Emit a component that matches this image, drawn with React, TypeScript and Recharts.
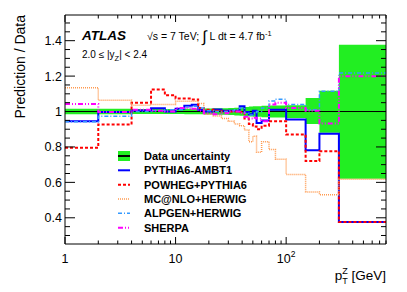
import { ComposedChart, Area, Line, XAxis, YAxis, ReferenceLine } from "recharts";

// bin edges in pT (GeV); first bin really starts at 0 but the log axis starts at 1
const binEdges = [1, 2, 4, 6, 8, 10, 12, 14, 16, 18, 22, 26, 30, 34, 38, 42, 46, 50, 54, 60, 70, 80, 100, 150, 200, 300, 800];

// data uncertainty band (one value per bin)
const dataLow = [0.984, 0.985, 0.986, 0.986, 0.986, 0.986, 0.985, 0.985, 0.984, 0.983, 0.982, 0.982, 0.98, 0.978, 0.976, 0.974, 0.972, 0.97, 0.97, 0.968, 0.966, 0.966, 0.964, 0.93, 0.88, 0.621];
const dataHigh = [1.016, 1.015, 1.014, 1.014, 1.014, 1.014, 1.015, 1.015, 1.016, 1.017, 1.018, 1.018, 1.02, 1.022, 1.024, 1.026, 1.028, 1.03, 1.03, 1.032, 1.034, 1.034, 1.036, 1.077, 1.118, 1.377];

// prediction / data ratios
const pythia = [0.945, 0.998, 1.006, 1.018, 1.0, 1.015, 1.032, 1.038, 1.008, 1.0, 1.012, 1.005, 1.005, 1.005, 1.03, 0.998, 0.985, 1.005, 0.935, 0.95, 1.01, 1.01, 0.955, 0.782, 0.875, 0.376];
const powheg = [0.795, 0.927, 1.049, 1.124, 1.092, 1.073, 1.073, 1.068, 1.02, 1.01, 1.005, 1.0, 1.0, 1.0, 0.998, 0.96, 0.93, 0.915, 0.9, 0.92, 0.945, 0.945, 0.87, 0.72, 0.776, 0.376];
const mcatnlo = [1.134, 1.064, 1.035, 1.04, 1.04, 1.058, 1.058, 1.058, 1.045, 0.985, 0.975, 0.96, 0.945, 0.93, 0.92, 0.895, 0.83, 0.86, 0.77, 0.83, 0.785, 0.73, 0.645, 0.545, 0.53, 0.617];
const alpgen = [0.942, 0.974, 1.0, 1.005, 1.01, 1.01, 1.025, 1.03, 1.02, 1.005, 1.0, 1.0, 1.005, 1.01, 1.02, 0.99, 0.98, 0.99, 1.0, 1.02, 1.06, 1.07, 1.04, 1.01, 1.114, 1.218];
const sherpa = [1.043, 0.998, 1.01, 1.005, 1.0, 1.02, 1.02, 1.015, 1.005, 0.99, 0.985, 0.99, 1.0, 1.0, 0.99, 0.97, 0.96, 0.965, 0.96, 0.945, 1.04, 1.05, 1.02, 1.005, 0.932, 1.199];

const xTicks = [1, 2, 3, 4, 5, 6, 7, 8, 9, 10, 20, 30, 40, 50, 60, 70, 80, 90, 100, 200, 300, 400, 500, 600, 700, 800];
const xMajor = [1, 10, 100];
const yTicks = [0.3, 0.35, 0.4, 0.45, 0.5, 0.55, 0.6, 0.65, 0.7, 0.75, 0.8, 0.85, 0.9, 0.95, 1, 1.05, 1.1, 1.15, 1.2, 1.25, 1.3, 1.35, 1.4, 1.45, 1.5];

const FONT = "'Liberation Sans', Arial, Helvetica, sans-serif";

const rows = binEdges.map((x, i) => {
  const j = Math.min(i, pythia.length - 1);
  return {
    x,
    band: [dataLow[j], dataHigh[j]],
    pythia: pythia[j],
    powheg: powheg[j],
    mcatnlo: mcatnlo[j],
    alpgen: alpgen[j],
    sherpa: sherpa[j],
  };
});

const isYMajor = (v: number) => Math.abs(v * 5 - Math.round(v * 5)) < 1e-6;

const BottomTick = (p: any) => {
  const v = p.payload.value;
  const major = xMajor.includes(v);
  return (
    <g>
      <line x1={p.x} x2={p.x} y1={p.y} y2={p.y - (major ? 7 : 3.5)} stroke="#000" strokeWidth={1} />
      {major && (
        <text x={p.x} y={p.y + 19} textAnchor="middle" fontSize={12.5} fontFamily={FONT} fill="#000">
          {v === 100 ? (
            <>
              10<tspan fontSize={8.5} dy={-6}>2</tspan>
            </>
          ) : (
            String(v)
          )}
        </text>
      )}
    </g>
  );
};

const TopTick = (p: any) => {
  const major = xMajor.includes(p.payload.value);
  return <line x1={p.x} x2={p.x} y1={p.y} y2={p.y + (major ? 7 : 3.5)} stroke="#000" strokeWidth={1} />;
};

const LeftTick = (p: any) => {
  const v = p.payload.value;
  const major = isYMajor(v);
  return (
    <g>
      <line x1={p.x} x2={p.x + (major ? 10 : 5)} y1={p.y} y2={p.y} stroke="#000" strokeWidth={1} />
      {major && (
        <text x={p.x - 3} y={p.y + 4.5} textAnchor="end" fontSize={12.5} fontFamily={FONT} fill="#000">
          {v === 1 ? "1" : v.toFixed(1)}
        </text>
      )}
    </g>
  );
};

const RightTick = (p: any) => {
  const major = isYMajor(p.payload.value);
  return <line x1={p.x} x2={p.x - (major ? 10 : 5)} y1={p.y} y2={p.y} stroke="#000" strokeWidth={1} />;
};

const legendItems = [
  { name: "PYTHIA6-AMBT1", color: "#0000ff", dash: undefined, width: 2 },
  { name: "POWHEG+PYTHIA6", color: "#ff0000", dash: "3 2", width: 2 },
  { name: "MC@NLO+HERWIG", color: "#ff9a50", dash: "1 1", width: 1.5 },
  { name: "ALPGEN+HERWIG", color: "#3399ff", dash: "4 2 1 2", width: 1.5 },
  { name: "SHERPA", color: "#ff00ff", dash: "5 2 1 2 1 2", width: 2 },
];

export default function App() {
  return (
    <div style={{ position: "absolute", left: 0, top: 0, width: 407, height: 292, background: "#fff" }}>
      <ComposedChart width={407} height={292} data={rows} margin={{ top: 14, right: 20, bottom: 0, left: 0 }}>
        <XAxis
          dataKey="x"
          type="number"
          scale="log"
          domain={[1, 800]}
          allowDataOverflow
          ticks={xTicks}
          interval={0}
          height={48}
          tickSize={0}
          tickMargin={0}
          tickLine={false}
          tick={BottomTick}
          axisLine={{ stroke: "#000", strokeWidth: 1 }}
        />
        <XAxis
          xAxisId="top"
          orientation="top"
          dataKey="x"
          type="number"
          scale="log"
          domain={[1, 800]}
          allowDataOverflow
          ticks={xTicks}
          interval={0}
          height={1}
          tickSize={0}
          tickMargin={0}
          tickLine={false}
          tick={TopTick}
          axisLine={{ stroke: "#000", strokeWidth: 1 }}
        />
        <YAxis
          type="number"
          domain={[0.252, 1.545]}
          allowDataOverflow
          ticks={yTicks}
          interval={0}
          width={65}
          tickSize={0}
          tickMargin={0}
          tickLine={false}
          tick={LeftTick}
          axisLine={{ stroke: "#000", strokeWidth: 1 }}
        />
        <YAxis
          yAxisId="right"
          orientation="right"
          type="number"
          domain={[0.252, 1.545]}
          allowDataOverflow
          ticks={yTicks}
          interval={0}
          width={1}
          tickSize={0}
          tickMargin={0}
          tickLine={false}
          tick={RightTick}
          axisLine={{ stroke: "#000", strokeWidth: 1 }}
        />
        <Area dataKey="band" type="stepAfter" fill="#22ee22" fillOpacity={1} stroke="none" isAnimationActive={false} />
        <ReferenceLine y={1} stroke="#000" strokeWidth={1} />
        <Line dataKey="pythia" type="stepAfter" stroke="#0000ff" strokeWidth={2} dot={false} isAnimationActive={false} />
        <Line dataKey="powheg" type="stepAfter" stroke="#ff0000" strokeWidth={2} strokeDasharray="3 2" dot={false} isAnimationActive={false} />
        <Line dataKey="mcatnlo" type="stepAfter" stroke="#ff9a50" strokeWidth={1.5} strokeDasharray="1 1" dot={false} isAnimationActive={false} />
        <Line dataKey="alpgen" type="stepAfter" stroke="#3399ff" strokeWidth={1.5} strokeDasharray="4 2 1 2" dot={false} isAnimationActive={false} />
        <Line dataKey="sherpa" type="stepAfter" stroke="#ff00ff" strokeWidth={2} strokeDasharray="5 2 1 2 1 2" dot={false} isAnimationActive={false} />
      </ComposedChart>

      <svg width={407} height={292} style={{ position: "absolute", left: 0, top: 0, pointerEvents: "none" }} fontFamily={FONT}>
        <text x={82} y={40} fontSize={13.5} fontWeight="bold" fontStyle="italic" fill="#000">ATLAS</text>
        <text x={147} y={40} fontSize={10.5} fill="#000">
          √s = 7 TeV;
          <tspan fontSize={16} dx={3} dy={2}>∫</tspan>
          <tspan dx={3} dy={-2}>L dt = 4.7 fb</tspan>
          <tspan fontSize={7.5} dy={-4}>-1</tspan>
        </text>
        <text x={82} y={58} fontSize={10} fill="#000">
          2.0 ≤ |y<tspan fontSize={7.5} dy={3}>Z</tspan>
          <tspan dy={-3}>| &lt; 2.4</tspan>
        </text>

        <text transform="translate(25,15) rotate(-90)" textAnchor="end" fontSize={14} fill="#000">
          Prediction / Data
        </text>

        <text x={386} y={280} textAnchor="end" fontSize={13.5} fill="#000">
          p<tspan fontSize={9} dy={4}>T</tspan>
          <tspan fontSize={9} dx={-5.5} dy={-10}>Z</tspan>
          <tspan dy={6}> [GeV]</tspan>
        </text>

        {/* legend */}
        <rect x={118} y={151} width={12} height={10} fill="#22ee22" />
        <line x1={118} x2={130} y1={156} y2={156} stroke="#000" strokeWidth={2} />
        <text x={144} y={160} fontSize={11} fontWeight="bold" fill="#000">Data uncertainty</text>
        {legendItems.map((it, i) => {
          const cy = 170.3 + i * 14.35;
          return (
            <g key={it.name}>
              <line x1={118} x2={130} y1={cy} y2={cy} stroke={it.color} strokeWidth={it.width} strokeDasharray={it.dash} />
              <text x={144} y={cy + 4} fontSize={11} fontWeight="bold" fill="#000">{it.name}</text>
            </g>
          );
        })}
      </svg>
    </div>
  );
}
